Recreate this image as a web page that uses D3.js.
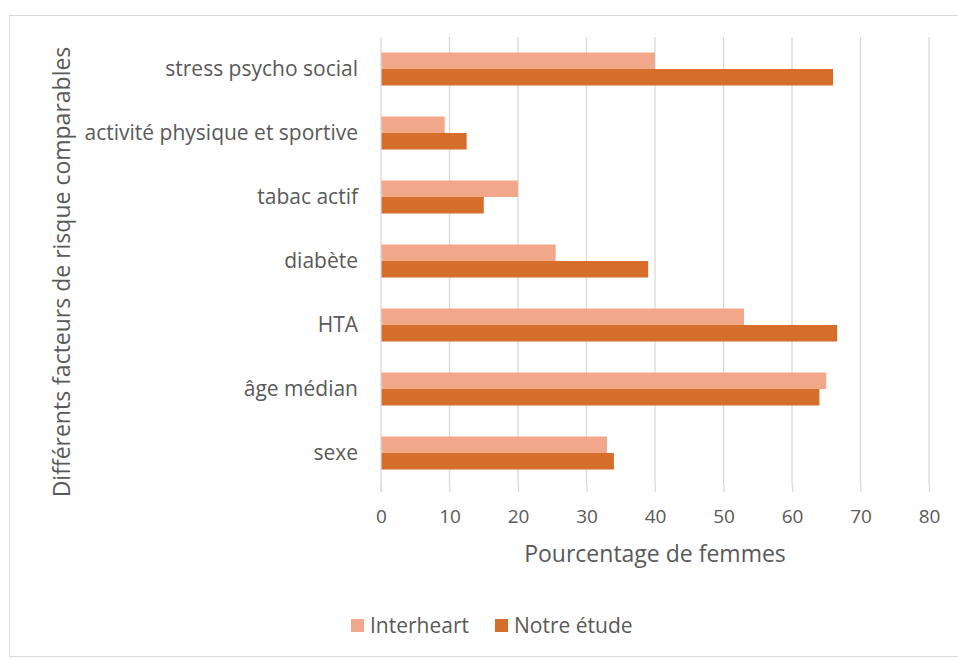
<!DOCTYPE html>
<html>
<head>
<meta charset="utf-8">
<script src="https://cdn.jsdelivr.net/npm/d3@7"></script>
<style>
	body { margin: 0; background: #fff; }
	text { font-family: "Open Sans", sans-serif; fill: #595959; }
</style>
</head>
<body>
<script>
//categories, top to bottom
var categories = ["stress psycho social", "activité physique et sportive", "tabac actif", "diabète", "HTA", "âge médian", "sexe"];
var seriesNames = ["Interheart", "Notre étude"];
var interheart = [40, 9.3, 20, 25.5, 53, 65, 33];
var notreEtude = [66, 12.5, 15, 39, 66.6, 64, 34];
var xTicks = [0, 10, 20, 30, 40, 50, 60, 70, 80];
var colors = ["#F1A88A", "#D46E2A"];

//frame dimensions
var width = 958,
	height = 659;

var margin = {top: 37, left: 381, right: 28, bottom: 174};

var svg = d3.select("body")
	.append("svg")
	.attr("width", width)
	.attr("height", height);

//chart border
svg.append("rect")
	.attr("x", 9.5)
	.attr("y", 15.5)
	.attr("width", width)
	.attr("height", 641)
	.attr("fill", "none")
	.attr("stroke", "#d9d9d9");

var x = d3.scaleLinear()
	.domain([0, 80])
	.range([margin.left, width - margin.right - 1]);

var y = d3.scaleBand()
	.domain(categories)
	.range([margin.top, height - margin.bottom])
	.paddingInner(0)
	.paddingOuter(0);

var sub = d3.scaleBand()
	.domain(seriesNames)
	.range([y.bandwidth() / 2 - 16.5, y.bandwidth() / 2 + 16.5]);

//gridlines
svg.append("g")
	.selectAll("line")
	.data(xTicks.slice(1))
	.enter()
	.append("line")
	.attr("x1", function(d){ return x(d); })
	.attr("x2", function(d){ return x(d); })
	.attr("y1", margin.top)
	.attr("y2", height - margin.bottom)
	.attr("stroke", "#d9d9d9")
	.attr("stroke-width", 1.3);

//x axis ticks and labels
var xAxis = svg.append("g")
	.attr("transform", "translate(0," + (height - margin.bottom) + ")")
	.call(d3.axisBottom(x).tickValues(xTicks).tickSize(7).tickPadding(18));
xAxis.select(".domain").remove();
xAxis.selectAll("line").attr("stroke", "#d9d9d9").attr("stroke-width", 1.3);
xAxis.selectAll("text").style("font-size", "19px").attr("fill", "#595959");

//bars
var rows = categories.map(function(c, i){
	return {cat: c, values: [interheart[i], notreEtude[i]]};
});

var groups = svg.selectAll(".grp")
	.data(rows)
	.enter()
	.append("g")
	.attr("class", "grp")
	.attr("transform", function(d){ return "translate(0," + y(d.cat) + ")"; });

groups.selectAll("rect")
	.data(function(d){ return d.values.map(function(v, j){ return {name: seriesNames[j], v: v, j: j}; }); })
	.enter()
	.append("rect")
	.attr("x", x(0))
	.attr("y", function(d){ return sub(d.name); })
	.attr("width", function(d){ return x(d.v) - x(0); })
	.attr("height", sub.bandwidth())
	.attr("fill", function(d){ return colors[d.j]; });

//y axis line
svg.append("line")
	.attr("x1", x(0)).attr("x2", x(0))
	.attr("y1", margin.top).attr("y2", height - margin.bottom + 7)
	.attr("stroke", "#d9d9d9")
	.attr("stroke-width", 1.3);

//category labels
svg.append("g")
	.selectAll("text")
	.data(categories)
	.enter()
	.append("text")
	.attr("x", 358)
	.attr("y", function(d){ return y(d) + y.bandwidth() / 2; })
	.attr("dy", "0.35em")
	.attr("text-anchor", "end")
	.style("font-size", "21px")
	.text(function(d){ return d; });

//axis titles
svg.append("text")
	.attr("x", 655)
	.attr("y", 562)
	.attr("text-anchor", "middle")
	.style("font-size", "23px")
	.text("Pourcentage de femmes");

svg.append("text")
	.attr("transform", "translate(70,272) rotate(-90)")
	.attr("text-anchor", "middle")
	.style("font-size", "23px")
	.text("Différents facteurs de risque comparables");

//legend
var legend = svg.append("g")
	.selectAll("g")
	.data(seriesNames)
	.enter()
	.append("g")
	.attr("transform", function(d, i){ return "translate(" + (351 + i * 144) + ",619)"; });

legend.append("rect")
	.attr("width", 13)
	.attr("height", 13)
	.attr("fill", function(d, i){ return colors[i]; });

legend.append("text")
	.attr("x", 19)
	.attr("y", 6.5)
	.attr("dy", "0.36em")
	.style("font-size", "21px")
	.text(function(d){ return d; });
</script>
</body>
</html>
